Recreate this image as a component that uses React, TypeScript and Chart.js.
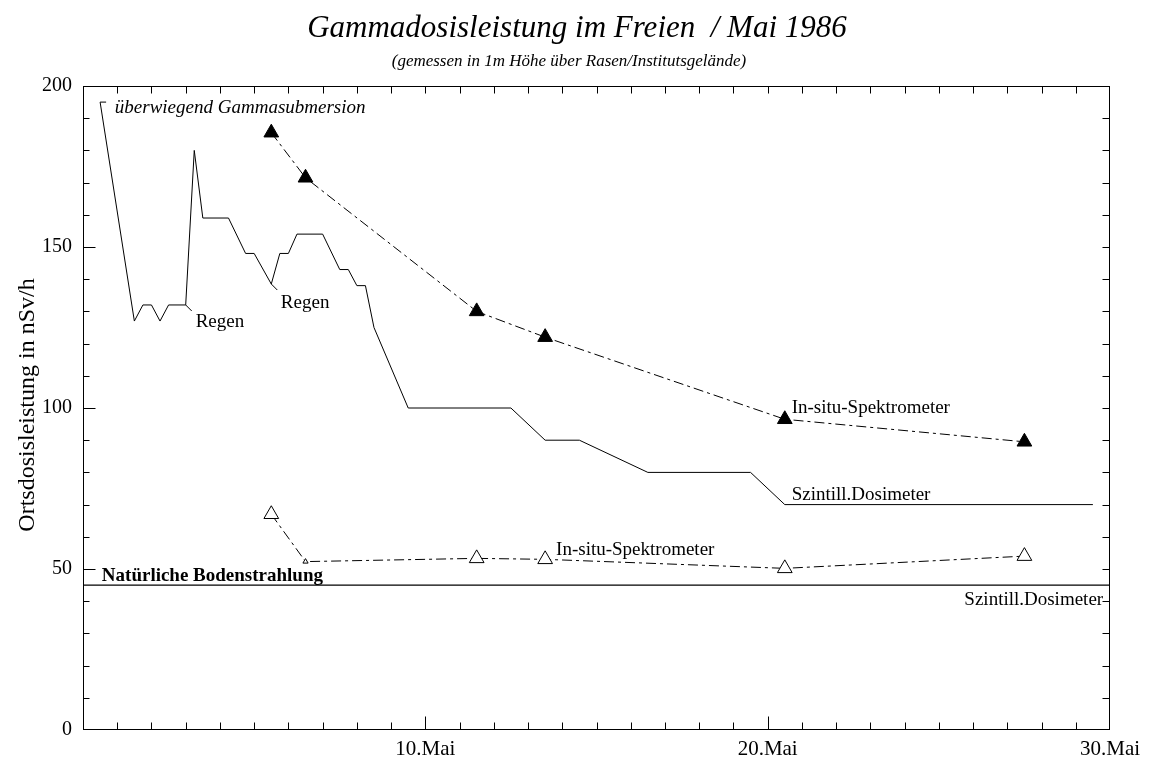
import React, { useEffect, useRef } from 'react';
import { Chart, registerables } from 'chart.js';

Chart.register(...registerables);

// ---- data (days of May on x, nSv/h on y) ----
const szintTimes = [0.5, 1.5, 1.75, 2, 2.25, 2.5, 3, 3.25, 3.5, 4.25, 4.75, 5, 5.5, 5.75, 6, 6.25, 7, 7.5, 7.75, 8, 8.25, 8.5, 9.5, 12.5, 13.5, 14.5, 16.5, 19.5, 20.5, 29.5];
const szintValues = [195, 127, 132, 132, 127, 132, 132, 180, 159, 159, 148, 148, 138.5, 148, 148, 154, 154, 143, 143, 138, 138, 125, 100, 100, 90, 90, 80, 80, 70, 70];

const insituHighTimes = [5.5, 6.5, 11.5, 13.5, 20.5, 27.5];
const insituHighValues = [185.5, 171.5, 130, 122, 96.5, 89.5];

const insituLowTimes = [5.5, 6.5, 11.5, 13.5, 20.5, 27.5];
const insituLowValues = [67, 52.3, 53.3, 53, 50.2, 54];

const naturalTimes = [0, 30];
const naturalValues = [45, 45];

const xTickValues = [10, 20, 30];
const xTickLabels = ['10.Mai', '20.Mai', '30.Mai'];
const yTickValues = [0, 50, 100, 150, 200];

const titleText = 'Gammadosisleistung im Freien  / Mai 1986';
const subtitleText = '(gemessen in 1m Höhe über Rasen/Institutsgelände)';
const yAxisTitle = 'Ortsdosisleistung in nSv/h';

const SERIF = '"Liberation Serif", "Times New Roman", serif';

const notes = [
  { text: 'überwiegend Gammasubmersion', x: 0.93, y: 191.5, style: 'italic', align: 'left' },
  { text: 'Regen', x: 3.29, y: 125.2, style: '', align: 'left' },
  { text: 'Regen', x: 5.78, y: 131.2, style: '', align: 'left' },
  { text: 'In-situ-Spektrometer', x: 20.7, y: 98.3, style: '', align: 'left' },
  { text: 'Szintill.Dosimeter', x: 20.7, y: 71.4, style: '', align: 'left' },
  { text: 'In-situ-Spektrometer', x: 13.82, y: 54.4, style: '', align: 'left' },
  { text: 'Natürliche Bodenstrahlung', x: 0.55, y: 46.3, style: 'bold', align: 'left' },
  { text: 'Szintill.Dosimeter', x: 29.8, y: 38.8, style: '', align: 'right' },
];

// leader lines: anchor data point + pixel offset
const leaders = [
  { x: 0.5, y: 195, dx: 6, dy: 0 },
  { x: 3, y: 132, dx: 6, dy: 6 },
  { x: 5.5, y: 138.5, dx: 6, dy: 6 },
];

const toXY = (xs: number[], ys: number[]) => xs.map((x, i) => ({ x, y: ys[i] }));

const decorPlugin = {
  id: 'decor',
  afterDraw(chart: any) {
    const { ctx, chartArea, scales } = chart;
    const xs = scales.x;
    const ys = scales.y;
    const L = Math.round(chartArea.left) + 0.5;
    const R = Math.round(chartArea.right) - 0.5;
    const T = Math.round(chartArea.top) + 0.5;
    const B = Math.round(chartArea.bottom) - 0.5;
    ctx.save();
    ctx.strokeStyle = '#000';
    ctx.lineWidth = 1;
    ctx.setLineDash([]);
    // frame
    ctx.strokeRect(L, T, R - L, B - T);
    ctx.beginPath();
    // x ticks (bottom + top), inward
    for (let d = 1; d < 30; d++) {
      const px = Math.round(xs.getPixelForValue(d)) + 0.5;
      const major = d % 10 === 0;
      ctx.moveTo(px, B);
      ctx.lineTo(px, B - (major ? 13 : 7));
      ctx.moveTo(px, T);
      ctx.lineTo(px, T + 7);
    }
    // y ticks (left + right), inward
    for (let v = 10; v < 200; v += 10) {
      const py = Math.round(ys.getPixelForValue(v)) + 0.5;
      const major = v % 50 === 0;
      ctx.moveTo(L, py);
      ctx.lineTo(L + (major ? 12 : 6), py);
      ctx.moveTo(R, py);
      ctx.lineTo(R - 7, py);
    }
    // leaders
    leaders.forEach((l) => {
      const px = xs.getPixelForValue(l.x);
      const py = ys.getPixelForValue(l.y);
      ctx.moveTo(px, py);
      ctx.lineTo(px + l.dx, py + l.dy);
    });
    ctx.stroke();

    // notes
    ctx.fillStyle = '#000';
    ctx.textBaseline = 'alphabetic';
    notes.forEach((n) => {
      ctx.font = `${n.style} 19px ${SERIF}`;
      ctx.textAlign = n.align as CanvasTextAlign;
      ctx.fillText(n.text, xs.getPixelForValue(n.x), ys.getPixelForValue(n.y));
    });

    // titles
    ctx.textAlign = 'center';
    ctx.font = `italic 31px ${SERIF}`;
    ctx.fillText(titleText, 577, 37);
    ctx.font = `italic 17px ${SERIF}`;
    ctx.fillText(subtitleText, 569, 66);

    // y axis title
    ctx.save();
    ctx.translate(34, (chartArea.top + chartArea.bottom) / 2 - 3);
    ctx.rotate(-Math.PI / 2);
    ctx.font = `24px ${SERIF}`;
    ctx.textAlign = 'center';
    ctx.textBaseline = 'alphabetic';
    ctx.fillText(yAxisTitle, 0, 0);
    ctx.restore();
    ctx.restore();
  },
};

export default function App() {
  const ref = useRef<HTMLCanvasElement | null>(null);

  useEffect(() => {
    document.body.style.margin = '0';
    const canvas = ref.current;
    if (!canvas) return;
    const chart = new Chart(canvas, {
      type: 'line',
      data: {
        datasets: [
          {
            label: 'Szintill.Dosimeter',
            data: toXY(szintTimes, szintValues),
            borderColor: '#000',
            borderWidth: 1,
            pointRadius: 0,
            tension: 0,
            fill: false,
          },
          {
            label: 'In-situ-Spektrometer (gesamt)',
            data: toXY(insituHighTimes, insituHighValues),
            borderColor: '#000',
            borderWidth: 1,
            borderDash: [10, 4, 3, 4],
            pointStyle: 'triangle',
            pointRadius: 8.5,
            pointBackgroundColor: '#000',
            pointBorderColor: '#000',
            pointBorderWidth: 1,
            tension: 0,
            fill: false,
          },
          {
            label: 'In-situ-Spektrometer (Boden)',
            data: toXY(insituLowTimes, insituLowValues),
            borderColor: '#000',
            borderWidth: 1,
            borderDash: [10, 4, 3, 4],
            pointStyle: 'triangle',
            pointRadius: [8.5, 3, 8.5, 8.5, 8.5, 8.5],
            pointBackgroundColor: '#fff',
            pointBorderColor: '#000',
            pointBorderWidth: 1,
            tension: 0,
            fill: false,
          },
          {
            label: 'Natürliche Bodenstrahlung',
            data: toXY(naturalTimes, naturalValues),
            borderColor: '#000',
            borderWidth: 1.2,
            pointRadius: 0,
            tension: 0,
            fill: false,
          },
        ],
      },
      options: {
        responsive: false,
        animation: false,
        devicePixelRatio: 1,
        clip: false as any,
        layout: { padding: { top: 86, right: 39, left: 0, bottom: 0 } },
        plugins: {
          legend: { display: false },
          title: { display: false },
          tooltip: { enabled: false },
        },
        scales: {
          x: {
            type: 'linear',
            min: 0,
            max: 30,
            grid: { display: false, drawTicks: false },
            border: { display: false },
            afterFit: (s: any) => { s.height = 28; },
            afterBuildTicks: (s: any) => { s.ticks = xTickValues.map((v) => ({ value: v })); },
            ticks: {
              padding: 7,
              color: '#000',
              font: { family: SERIF, size: 21 },
              maxRotation: 0,
              callback: (v: any) => {
                const i = xTickValues.indexOf(Number(v));
                return i >= 0 ? xTickLabels[i] : '';
              },
            },
          },
          y: {
            type: 'linear',
            min: 0,
            max: 200,
            grid: { display: false, drawTicks: false },
            border: { display: false },
            afterFit: (s: any) => { s.width = 83; },
            afterBuildTicks: (s: any) => { s.ticks = yTickValues.map((v) => ({ value: v })); },
            ticks: {
              padding: 11,
              color: '#000',
              font: { family: SERIF, size: 20 },
            },
          },
        },
      },
      plugins: [decorPlugin],
    });
    return () => chart.destroy();
  }, []);

  return (
    <div style={{ position: 'absolute', left: 0, top: 0, width: 1149, height: 758, background: '#fff' }}>
      <canvas ref={ref} width={1149} height={758} />
    </div>
  );
}
